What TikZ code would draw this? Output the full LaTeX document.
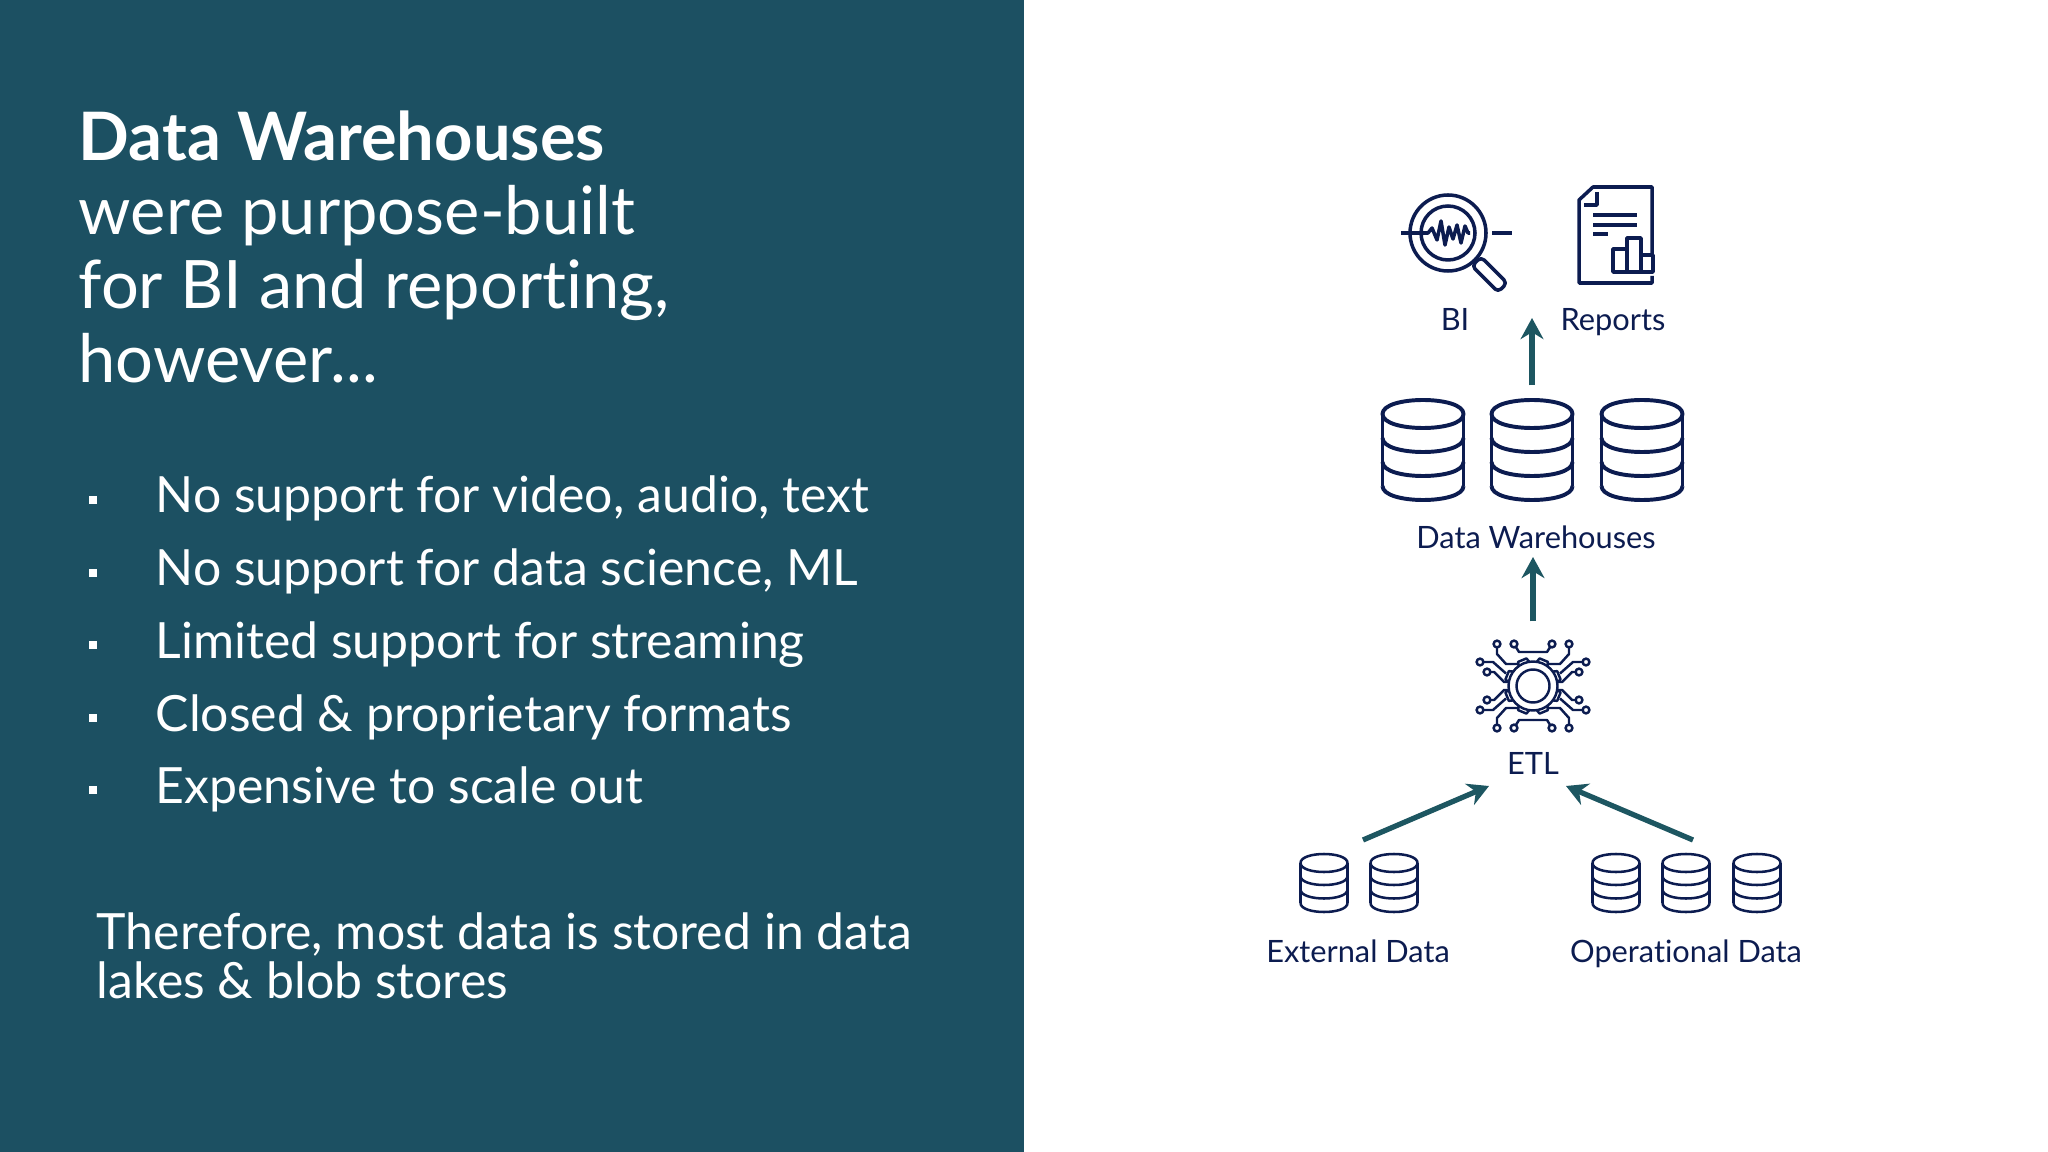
\documentclass[tikz,border=0pt]{standalone}
\usepackage{fontspec}
\setmainfont{Lato}[Ligatures=NoCommon]
\usetikzlibrary{arrows.meta, positioning, calc}
\definecolor{panelteal}{HTML}{1C5062}
\definecolor{arrowteal}{HTML}{1D5661}
\definecolor{iconnavy}{HTML}{0C1C50}
\tikzstyle{title_text} = [anchor=base west, inner sep=0pt, text=white, font=\fontsize{19}{22}\selectfont]
\tikzstyle{item_text} = [anchor=base west, inner sep=0pt, text=white, font=\fontsize{14.2}{16}\selectfont]
\tikzstyle{item_mark} = [rectangle, fill=white, minimum size=0.08cm, inner sep=0pt]
\tikzstyle{icon_label} = [anchor=base, inner sep=2pt, text=iconnavy, font=\fontsize{8.75}{10}\selectfont]
\tikzstyle{db_big} = [rectangle, minimum width=0.81cm, minimum height=1.28cm, inner sep=0pt]
\tikzstyle{db_small} = [rectangle, minimum width=0.47cm, minimum height=0.58cm, inner sep=0pt]
\tikzstyle{icon_box} = [rectangle, minimum width=0.9cm, minimum height=0.9cm, inner sep=0pt]
\tikzstyle{arrow_solid} = [line width=1.5pt, arrowteal, -{Stealth[length=6pt, width=6.5pt]}]
\tikzstyle{icon_line} = [iconnavy, line width=1pt, line join=round]

% node name, half width, ellipse height, half height, band spacing
\newcommand{\drawdb}[5]{
	\begin{scope}[shift={(#1.center)}, icon_line, line width={0.08pt*#3}]
		\draw (-#2,{-#4+#3}) .. controls (-#2,{-#4-#3/3}) and (#2,{-#4-#3/3}) .. (#2,{-#4+#3}) .. controls (#2,{-#4+7*#3/3}) and (-#2,{-#4+7*#3/3}) .. cycle;
		\draw (-#2,{-#4+#3}) -- (-#2,{#4-#3});
		\draw (#2,{-#4+#3}) -- (#2,{#4-#3});
		\foreach \k in {0,1,2} {
			\draw (-#2,{#4-#3-\k*#5}) .. controls (-#2,{#4+#3/3-\k*#5}) and (#2,{#4+#3/3-\k*#5}) .. (#2,{#4-#3-\k*#5});
		}
	\end{scope}
}

\begin{document}
\begin{tikzpicture}[x=0.01cm, y=-0.01cm]

	\useasboundingbox (0,0) rectangle (2048,1152);
	\fill[panelteal] (0,0) rectangle (1024,1152);

	% left panel
	\node (title_a) at (78,161) [title_text] {\textbf{Data Warehouses}};
	\node (title_b) at (78,235) [title_text] {were purpose-built};
	\node (title_c) at (78,309) [title_text] {for BI and reporting,};
	\node (title_d) at (78,383) [title_text] {however...};

	\node (item_a) at (155,513) [item_text] {No support for video, audio, text};
	\node (item_b) at (155,586) [item_text] {No support for data science, ML};
	\node (item_c) at (155,658) [item_text] {Limited support for streaming};
	\node (item_d) at (155,731) [item_text] {Closed \& proprietary formats};
	\node (item_e) at (155,803) [item_text] {Expensive to scale out};

	\node (mark_a) at (93,500) [item_mark] {};
	\node (mark_b) at (93,573) [item_mark] {};
	\node (mark_c) at (93,645) [item_mark] {};
	\node (mark_d) at (93,718) [item_mark] {};
	\node (mark_e) at (93,790) [item_mark] {};

	\node (note_a) at (96,949) [item_text] {Therefore, most data is stored in data};
	\node (note_b) at (96,998) [item_text] {lakes \& blob stores};

	% right side nodes
	\node (bi) at (1455,233) [icon_box] {};
	\node (bi_label) at (1455,331) [icon_label] {BI};
	\node (reports) at (1616,235) [icon_box] {};
	\node (reports_label) at (1613,331) [icon_label] {Reports};
	\coordinate (outputs) at (1532,318);

	\node (dw_b) at (1532,450) [db_big] {};
	\node (dw_a) at (1423,450) [db_big] {};
	\node (dw_c) at (1642,450) [db_big] {};
	\node (dw_label) at (1536,549) [icon_label] {Data Warehouses};

	\node (etl) at (1533,686) [icon_box, minimum height=1.28cm] {};
	\node (etl_label) at (1533,774) [icon_label] {ETL};
	\coordinate (etl_in_a) at (1489,786);
	\coordinate (etl_in_b) at (1566,786);

	\node (ext_a) at (1324,883) [db_small] {};
	\node (ext_b) at (1394,883) [db_small] {};
	\node (ext_label) at (1358,962) [icon_label] {External Data};
	\coordinate (ext_out) at (1363,840);

	\node (op_a) at (1616,883) [db_small] {};
	\node (op_b) at (1686,883) [db_small] {};
	\node (op_c) at (1757,883) [db_small] {};
	\node (op_label) at (1686,962) [icon_label] {Operational Data};
	\coordinate (op_out) at (1693,840);

	% cylinders
	\drawdb{dw_a}{40.5}{14}{50}{24}
	\drawdb{dw_b}{40.5}{14}{50}{24}
	\drawdb{dw_c}{40.5}{14}{50}{24}
	\drawdb{ext_a}{23.5}{9}{29}{13.5}
	\drawdb{ext_b}{23.5}{9}{29}{13.5}
	\drawdb{op_a}{23.5}{9}{29}{13.5}
	\drawdb{op_b}{23.5}{9}{29}{13.5}
	\drawdb{op_c}{23.5}{9}{29}{13.5}

	% magnifier
	\begin{scope}[shift={(1448,233)}, icon_line]
		\draw (0,0) circle [radius=38];
		\draw (0,0) circle [radius=27];
		\draw (-47,0) -- (-20,0) -- (-16,-5) -- (-11,7) -- (-7,-12) -- (-3,12) -- (1,-6) -- (5,6) -- (9,-8) -- (13,10) -- (17,-7) -- (20,0) -- (22,0);
		\draw (44,0) -- (64,0);
		\draw[rounded corners=1.2pt] (24,33) -- (33,24) -- (59,50) -- (50,59) -- cycle;
	\end{scope}

	% report sheet
	\begin{scope}[icon_line]
		\draw (1652,255) -- (1652,187) -- (1593,187) -- (1579,200) -- (1579,283) -- (1652,283) -- (1652,276);
		\draw (1597,192) -- (1597,205) -- (1584,205);
		\draw (1593,215) -- (1637,215);
		\draw (1593,225) -- (1637,225);
		\draw (1593,234) -- (1608,234);
		\draw (1613,272) rectangle (1627,249);
		\draw (1627,272) rectangle (1641,238);
		\draw (1641,272) rectangle (1653,255);
	\end{scope}

	% circuit gear
	\begin{scope}[shift={(etl.center)}, iconnavy, line width=0.7pt, line join=round]
		\foreach \sx/\sy in {1/1,-1/1,1/-1,-1/-1} {
			\begin{scope}[xscale=\sx, yscale=\sy]
				\draw (19,42) -- (14,34) -- (0,34);
				\draw (36,42) -- (36,32) -- (27,22) -- (14,22);
				\draw (53,24) -- (40,24) -- (27,12.5);
				\draw (46,14) -- (39,14) -- (29,4) -- (25,4);
				\draw[fill=white] (19,42) circle [radius=3.4];
				\draw[fill=white] (36,42) circle [radius=3.4];
				\draw[fill=white] (53,24) circle [radius=3.4];
				\draw[fill=white] (46,14) circle [radius=3.4];
			\end{scope}
		}
		\foreach \a in {22.5,67.5,...,337.5} {
			\draw[rotate=\a, fill=white] (23,-6) -- (28,-4.5) -- (28,4.5) -- (23,6);
		}
		\draw (0,0) circle [radius=24.5];
		\draw (0,0) circle [radius=16.5];
	\end{scope}

	% arrows
	\draw [arrow_solid] (dw_b) -- (outputs);
	\draw [arrow_solid] (etl) -- (etl.north |- dw_label.south);
	\draw [arrow_solid] (ext_out) -- (etl_in_a);
	\draw [arrow_solid] (op_out) -- (etl_in_b);

\end{tikzpicture}
\end{document}
